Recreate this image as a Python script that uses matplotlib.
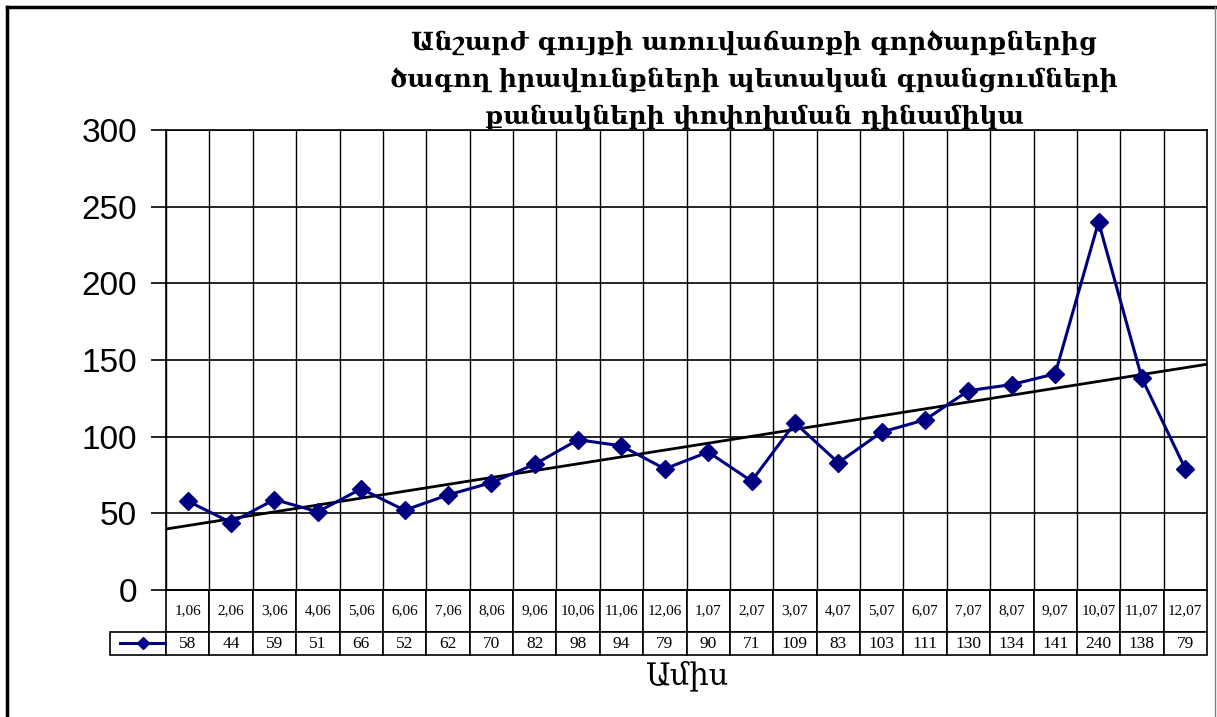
import matplotlib.pyplot as plt
from matplotlib.lines import Line2D
import numpy as np

months = ["1,06", "2,06", "3,06", "4,06", "5,06", "6,06", "7,06", "8,06", "9,06",
          "10,06", "11,06", "12,06", "1,07", "2,07", "3,07", "4,07", "5,07", "6,07",
          "7,07", "8,07", "9,07", "10,07", "11,07", "12,07"]
counts = [58, 44, 59, 51, 66, 52, 62, 70, 82, 98, 94, 79,
          90, 71, 109, 83, 103, 111, 130, 134, 141, 240, 138, 79]

title = ("Անշարժ գույքի առուվաճառքի գործարքներից\n"
         "ծագող իրավունքների պետական գրանցումների\n"
         "քանակների փոփոխման դինամիկա")
xlabel = "Ամիս"

W, H = 1217, 717
fig = plt.figure(figsize=(W / 100, H / 100), dpi=100)
ax = fig.add_axes([166 / W, 1 - 590 / H, (1207 - 166) / W, (590 - 130) / H])

x = np.arange(len(counts))
navy = "#000080"
ax.plot(x, counts, color=navy, lw=2.2, marker="D", ms=9, mfc=navy, mec=navy, zorder=4)

# linear trend line across the whole plot width
k, b = np.polyfit(x, counts, 1)
xt = np.array([-0.5, len(counts) - 0.5])
ax.plot(xt, k * xt + b, color="black", lw=2, zorder=3)

ax.set_xlim(-0.5, len(counts) - 0.5)
ax.set_ylim(0, 300)
ax.set_yticks(range(0, 301, 50))
ax.set_xticks([])
ax.set_xticks(np.arange(-0.5, len(counts), 1), minor=True)
ax.tick_params(axis="x", which="both", length=0, labelbottom=False)
ax.tick_params(axis="y", length=11, width=1.2, direction="out", pad=10, labelsize=24)
for lab in ax.get_yticklabels():
    lab.set_fontfamily("Liberation Sans")
ax.grid(axis="y", which="major", color="black", lw=1.2)
ax.grid(axis="x", which="minor", color="black", lw=1)
for s in ax.spines.values():
    s.set_linewidth(1.2)

# data table below the plot
first_w = 56 / 1041
cell_w = 1 / len(counts)
row_h = [42 / 460, 23 / 460]
tbl = ax.table(cellText=[[""] + months, [""] + [str(v) for v in counts]],
               cellLoc="center",
               bbox=[-first_w, -(row_h[0] + row_h[1]), 1 + first_w, row_h[0] + row_h[1]])
tbl.auto_set_font_size(False)
for (r, c), cell in tbl.get_celld().items():
    cell.set_width(first_w if c == 0 else cell_w)
    cell.set_height(row_h[r])
    cell.set_linewidth(1.2)
    cell.PAD = 0.02
    cell.get_text().set_fontfamily("Liberation Serif")
    cell.get_text().set_fontsize(11 if r == 0 else 12.5)
    if r == 0 and c == 0:
        cell.visible_edges = ""

# legend key in the first cell of the value row
key = Line2D([], [], color=navy, lw=2.2, marker="D", ms=6.5, mfc=navy, mec=navy)
ax.legend(handles=[key], labels=[""], frameon=False, handlelength=3.2,
          handletextpad=0, borderpad=0, loc="center",
          bbox_to_anchor=(-first_w / 2 + 0.0045, -(row_h[0] + row_h[1] / 2)))

fig.text(688 / W, 1 - 676 / H, xlabel, ha="center", va="center",
         fontsize=22, family="DejaVu Serif")
fig.text(754 / W, 1 - 80 / H, title, ha="center", va="center", fontsize=18,
         fontweight="bold", family="DejaVu Serif", linespacing=1.6)

# outer frame
fig.add_artist(Line2D([7 / W, 1], [1 - 7 / H, 1 - 7 / H], color="black", lw=2.5))
fig.add_artist(Line2D([7 / W, 7 / W], [0, 1 - 7 / H], color="black", lw=2.5))
fig.add_artist(Line2D([1215 / W, 1215 / W], [0, 1 - 7 / H], color="gray", lw=1))

fig.savefig("out.png", dpi=100)
